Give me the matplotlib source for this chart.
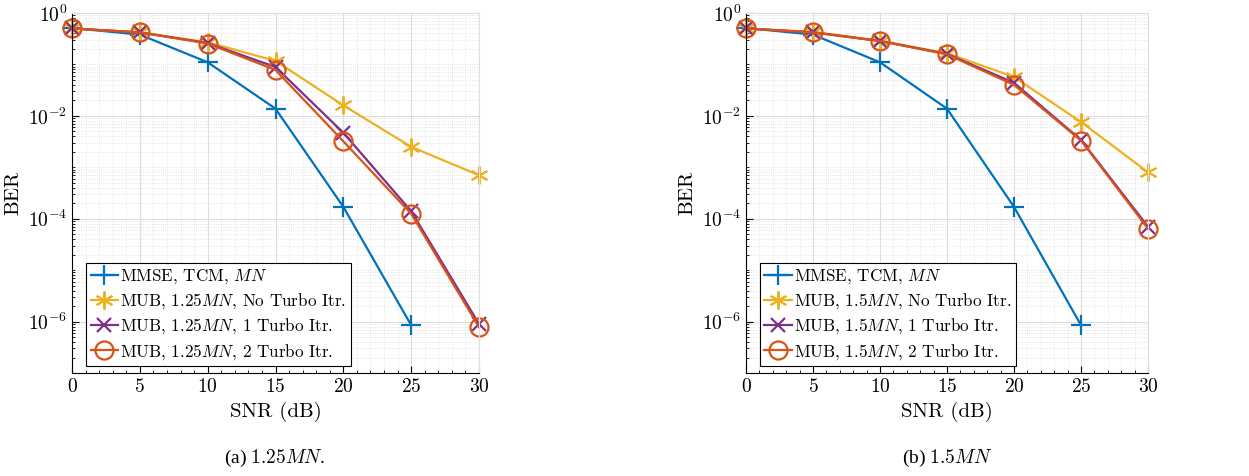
import numpy as np
import matplotlib
matplotlib.use('Agg')
import matplotlib.pyplot as plt
from matplotlib.ticker import LogLocator, MultipleLocator, NullFormatter

plt.rcParams['mathtext.fontset'] = 'cm'
plt.rcParams['font.family'] = 'serif'
plt.rcParams['font.serif'] = ['cmr10', 'DejaVu Serif']
plt.rcParams['axes.unicode_minus'] = False
plt.rcParams['axes.formatter.use_mathtext'] = True

# data
snr = [0, 5, 10, 15, 20, 25, 30]
snr_mmse = [0, 5, 10, 15, 20, 25]
mmse = [0.51, 0.38, 0.11, 0.0138, 1.7e-4, 8.5e-7]

# (a) 1.25MN
a_noturbo = [0.5, 0.42, 0.27, 0.117, 0.016, 0.0025, 7e-4]
a_turbo1 = [0.5, 0.42, 0.26, 0.089, 0.0047, 1.4e-4, 9e-7]
a_turbo2 = [0.5, 0.42, 0.255, 0.078, 0.0032, 1.25e-4, 7.8e-7]

# (b) 1.5MN
b_noturbo = [0.5, 0.43, 0.29, 0.165, 0.057, 0.0076, 8e-4]
b_turbo1 = [0.5, 0.42, 0.285, 0.16, 0.044, 0.0034, 7e-5]
b_turbo2 = [0.5, 0.42, 0.285, 0.157, 0.040, 0.0033, 6.4e-5]

y_ticks = [1e-6, 1e-4, 1e-2, 1]

c_blue = '#0072BD'
c_yellow = '#EDB120'
c_purple = '#7E2F8E'
c_orange = '#D95319'

# matlab style asterisk
asterisk = (6, 2, 0)

fig = plt.figure(figsize=(12.49, 4.76), dpi=100)
W, H = 1249, 476
ax1 = fig.add_axes([72 / W, 1 - 373 / H, 407 / W, 360 / H])
ax2 = fig.add_axes([746 / W, 1 - 373 / H, 402 / W, 360 / H])


def draw(ax, noturbo, turbo1, turbo2, tag):
    ax.semilogy(snr_mmse, mmse, '-', marker='+', color=c_blue, lw=1.6,
                markersize=14, markeredgewidth=1.6, clip_on=False,
                label=r'MMSE, TCM, $MN$')
    ax.semilogy(snr, noturbo, '-', marker=asterisk, color=c_yellow, lw=1.6,
                markersize=13, markeredgewidth=1.4, clip_on=False,
                label=r'MUB, $%sMN$, No Turbo Itr.' % tag)
    ax.semilogy(snr, turbo1, '-x', color=c_purple, lw=1.6,
                markersize=10, markeredgewidth=1.6, clip_on=False,
                label=r'MUB, $%sMN$, 1 Turbo Itr.' % tag)
    ax.semilogy(snr, turbo2, '-o', color=c_orange, lw=1.6,
                markersize=13, markeredgewidth=1.6, markerfacecolor='none',
                clip_on=False,
                label=r'MUB, $%sMN$, 2 Turbo Itr.' % tag)
    ax.set_xlim(0, 30)
    ax.set_ylim(1e-7, 1)
    ax.xaxis.set_major_locator(MultipleLocator(5))
    ax.xaxis.set_minor_locator(MultipleLocator(1))
    ax.set_yticks(y_ticks)
    ax.yaxis.set_minor_locator(LogLocator(base=10, subs=np.arange(1, 10), numticks=20))
    ax.yaxis.set_minor_formatter(NullFormatter())
    ax.grid(True, which='major', color='#dddddd', lw=0.8)
    ax.grid(True, which='minor', color='#dddddd', lw=0.6, linestyle=':')
    ax.set_axisbelow(True)
    ax.tick_params(which='both', direction='in', labelsize=14)
    ax.tick_params(which='major', length=5)
    ax.tick_params(which='minor', length=2.5)
    ax.tick_params(top=False, right=False, which='both')
    ax.spines['top'].set_color('#dddddd')
    ax.spines['right'].set_color('#dddddd')
    ax.set_xlabel('SNR (dB)', fontsize=15)
    ax.set_ylabel('BER', fontsize=15)
    leg = ax.legend(loc='lower left', bbox_to_anchor=(0.035, 0.02), fontsize=12.3,
                    handlelength=1.6, handletextpad=0.15, borderpad=0.25,
                    borderaxespad=0.0, labelspacing=0.3, fancybox=False,
                    edgecolor='black', framealpha=1)
    leg.get_frame().set_linewidth(0.8)
    leg.set_zorder(5)


draw(ax1, a_noturbo, a_turbo1, a_turbo2, '1.25')
draw(ax2, b_noturbo, b_turbo1, b_turbo2, '1.5')

fig.text(275 / W, 1 - 458 / H, r'(a) $1.25MN$.', ha='center', va='center',
         fontsize=14, family='Liberation Serif')
fig.text(947 / W, 1 - 458 / H, r'(b) $1.5MN$', ha='center', va='center',
         fontsize=14, family='Liberation Serif')

fig.savefig('out.png', dpi=100)
